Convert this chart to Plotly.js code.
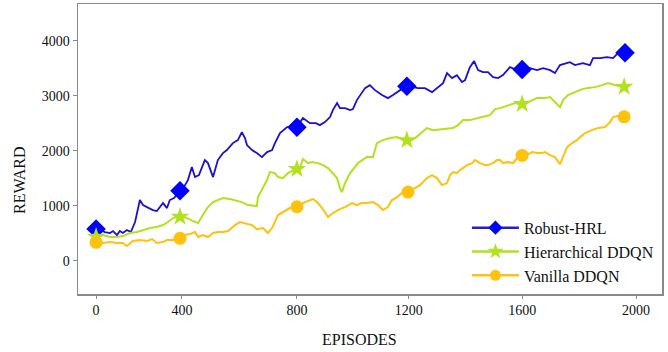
<!DOCTYPE html>
<html>
<head>
<meta charset="utf-8">
<script src="https://cdn.plot.ly/plotly-3.0.1.min.js"></script>
<style>html,body{margin:0;padding:0;background:#fff;}#chart{width:668px;height:352px;}</style>
</head>
<body>
<div id="chart"></div>
<script>
// Tick labels (placed where the reference draws them)
const tickPositions = [89, 393, 800, 1196, 1597, 2000];
const tickLabels = ["0", "400", "800", "1200", "1600", "2000"];

// Robust-HRL
const robustEpisodes = [89,106,120,138,149,163,173,184,198,212,227,244,255,269,290,304,326,340,350,365,386,404,414,428,439,453,474,485,503,520,538,552,573,591,605,616,623,641,658,676,694,712,722,740,765,782,800,821,846,867,881,899,917,927,942,952,970,988,998,1012,1030,1041,1058,1076,1101,1122,1140,1165,1189,1211,1228,1253,1278,1296,1317,1331,1349,1366,1384,1395,1412,1427,1441,1458,1476,1494,1512,1529,1554,1579,1597,1625,1650,1671,1696,1713,1731,1766,1784,1812,1837,1848,1873,1897,1919,1936,1961];
const robustReward = [576,558,522,504,540,467,540,504,558,522,704,1104,1013,976,922,904,1049,958,1104,1140,1267,1376,1467,1703,1522,1558,1831,1776,1522,1831,1958,2013,2140,2194,2340,2231,2104,2013,1958,1885,1976,2013,2140,2322,2431,2431,2431,2594,2503,2503,2467,2522,2613,2740,2867,2776,2776,2740,2758,2922,3067,3140,3194,3103,3013,2958,3013,3103,3158,3158,3140,3140,3067,3140,3231,3413,3322,3376,3249,3285,3521,3631,3467,3431,3431,3340,3322,3376,3521,3467,3485,3503,3467,3503,3467,3413,3558,3612,3558,3594,3558,3685,3685,3703,3685,3776,3776];
const robustMarkEpisodes = [89, 386, 800, 1189, 1597, 1961];
const robustMarkReward = [576, 1273, 2430, 3176, 3480, 3782];

// Hierarchical DDQN
const hierEpisodes = [89,113,138,163,184,209,234,255,280,304,326,343,361,386,411,432,450,467,485,503,520,538,563,581,605,627,658,662,680,694,704,722,733,750,768,786,800,811,821,839,853,874,892,910,927,942,952,959,970,988,1005,1016,1041,1048,1069,1083,1104,1129,1154,1175,1193,1218,1243,1260,1281,1317,1352,1370,1388,1412,1430,1455,1483,1501,1519,1547,1572,1597,1618,1650,1678,1696,1713,1731,1742,1759,1784,1809,1830,1855,1880,1901,1926,1954];
const hierReward = [431,467,431,431,449,504,522,558,594,613,649,704,776,813,776,722,685,831,976,1067,1104,1140,1122,1104,1067,1013,994,1158,1340,1467,1613,1594,1522,1503,1594,1649,1685,1703,1849,1776,1794,1776,1740,1685,1594,1503,1322,1249,1413,1594,1703,1776,1867,1885,1885,2140,2194,2231,2249,2194,2158,2231,2340,2413,2376,2394,2413,2467,2558,2558,2576,2613,2649,2758,2776,2831,2867,2849,2885,2958,2958,2976,2885,2794,2922,3013,3067,3122,3140,3158,3194,3231,3194,3158];
const hierMarkEpisodes = [89, 386, 800, 1189, 1597, 1958];
const hierMarkReward = [436, 800, 1667, 2193, 2850, 3164];

// Vanilla DDQN
const vanEpisodes = [89,113,138,163,184,198,219,244,269,287,304,326,340,361,379,404,421,439,450,467,485,503,520,538,556,581,598,616,641,658,680,697,712,733,750,775,800,828,857,871,889,910,927,952,970,995,1012,1030,1048,1069,1087,1104,1122,1136,1154,1172,1193,1218,1235,1260,1278,1296,1313,1331,1342,1352,1366,1377,1402,1420,1430,1448,1466,1476,1494,1508,1519,1529,1547,1565,1579,1597,1614,1632,1650,1667,1678,1696,1713,1731,1742,1756,1774,1791,1802,1820,1844,1866,1890,1908,1919,1936,1954];
const vanReward = [340,322,340,322,322,267,358,376,358,394,322,340,376,376,413,467,485,522,431,467,431,504,522,522,540,649,704,685,649,576,594,504,594,831,885,958,976,1067,1122,1067,958,794,867,940,976,1049,1013,1049,1049,1067,1013,922,976,1104,1158,1231,1249,1322,1376,1503,1558,1503,1376,1413,1558,1613,1594,1649,1740,1776,1831,1776,1740,1740,1776,1831,1831,1776,1794,1776,1867,1904,1922,1976,1958,1958,1976,1922,1885,1758,1885,2067,2140,2194,2249,2322,2376,2413,2431,2522,2613,2631,2613];
const vanMarkEpisodes = [89, 386, 800, 1193, 1597, 1958];
const vanMarkReward = [335, 407, 982, 1249, 1916, 2618];

const seriesNames = ["Robust-HRL", "Hierarchical DDQN", "Vanilla DDQN"];

const blueLine = '#1c10d4', blueMark = '#0000ff';
const green = '#b2e21e';
const yellow = '#ffc20e';

const traces = [
  {x: robustEpisodes, y: robustReward, mode: 'lines', line: {color: blueLine, width: 1.8}, showlegend: false, hoverinfo: 'skip'},
  {x: robustMarkEpisodes, y: robustMarkReward, mode: 'markers', marker: {symbol: 'diamond', size: 15, color: blueMark}, showlegend: false},
  {x: hierEpisodes, y: hierReward, mode: 'lines', line: {color: green, width: 2}, showlegend: false},
  {x: hierMarkEpisodes, y: hierMarkReward, mode: 'markers', marker: {symbol: 'star', size: 14, color: green}, showlegend: false},
  {x: vanEpisodes, y: vanReward, mode: 'lines', line: {color: yellow, width: 2}, showlegend: false},
  {x: vanMarkEpisodes, y: vanMarkReward, mode: 'markers', marker: {symbol: 'circle', size: 13, color: yellow}, showlegend: false},
  // legend entries
  {x: [null], y: [null], mode: 'lines+markers', name: seriesNames[0], line: {color: '#2a22b8', width: 2.5}, marker: {symbol: 'diamond', size: 11, color: blueMark}},
  {x: [null], y: [null], mode: 'lines+markers', name: seriesNames[1], line: {color: green, width: 2.5}, marker: {symbol: 'star', size: 12, color: green}},
  {x: [null], y: [null], mode: 'lines+markers', name: seriesNames[2], line: {color: yellow, width: 2.5}, marker: {symbol: 'circle', size: 11, color: yellow}}
];

const font = "'Liberation Serif', 'Times New Roman', serif";
const layout = {
  width: 668, height: 352,
  margin: {l: 78, r: 6, t: 4, b: 58},
  paper_bgcolor: '#fff', plot_bgcolor: '#fff',
  font: {family: font, color: '#111', size: 14},
  showlegend: true,
  legend: {x: 0.666, y: 0.287, xanchor: 'left', yanchor: 'top', bgcolor: 'rgba(0,0,0,0)', font: {family: font, size: 16, color: '#111'}, itemwidth: 47, tracegroupgap: 0},
  xaxis: {
    range: [25, 2092], tickvals: tickPositions, ticktext: tickLabels,
    showgrid: false, zeroline: false, showline: true, linecolor: '#8a8a8a', linewidth: 1.5, mirror: true,
    ticks: 'outside', ticklen: 3, tickcolor: '#8a8a8a', tickfont: {family: font, size: 14, color: '#111'}
  },
  yaxis: {
    range: [-605, 4670], tickvals: [0, 1000, 2000, 3000, 4000],
    showgrid: false, zeroline: false, showline: true, linecolor: '#8a8a8a', linewidth: 1.5, mirror: true,
    ticks: 'outside', ticklen: 4, tickcolor: '#8a8a8a', tickfont: {family: font, size: 14, color: '#111'}
  },
  annotations: [
    {text: 'EPISODES', xref: 'paper', yref: 'paper', x: (359.5 - 78) / 584, y: -0.158, xanchor: 'center', yanchor: 'middle', showarrow: false, font: {family: font, size: 16, color: '#111'}},
    {text: 'REWARD', xref: 'paper', yref: 'paper', x: (19 - 78) / 584, y: (294 - 180) / 290, xanchor: 'center', yanchor: 'middle', textangle: -90, showarrow: false, font: {family: font, size: 16, color: '#111'}}
  ]
};

Plotly.newPlot('chart', traces, layout, {displayModeBar: false, staticPlot: true});
</script>
</body>
</html>
